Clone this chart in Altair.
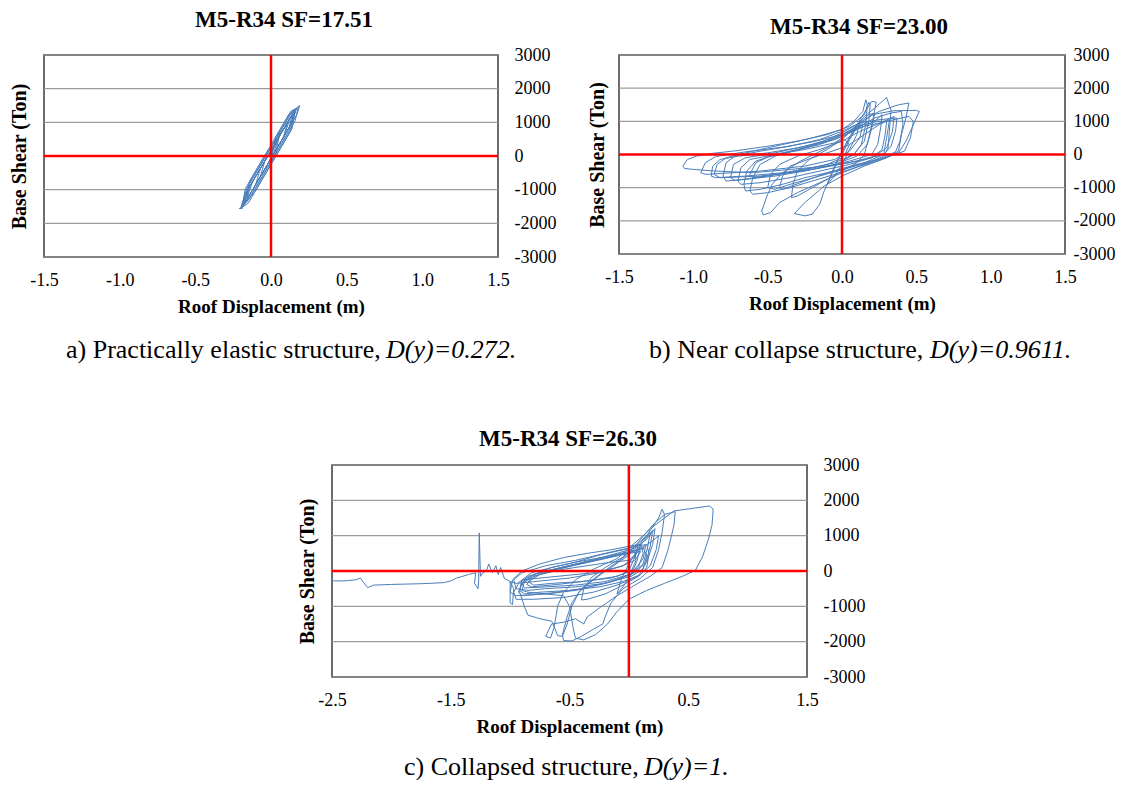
import altair as alt
import pandas as pd

FONT = "Liberation Serif"
BLUE = "#4a7ebb"

# ---------------- data ----------------
titles = ["M5-R34 SF=17.51", "M5-R34 SF=23.00", "M5-R34 SF=26.30"]
y_ticks = [-3000, -2000, -1000, 0, 1000, 2000, 3000]
x_ticks_ab = [-1.5, -1.0, -0.5, 0.0, 0.5, 1.0, 1.5]
x_ticks_c = [-2.5, -1.5, -0.5, 0.5, 1.5]

# panel a : practically elastic
a_x = [0.00, 0.05, 0.10, 0.14, 0.12, 0.06, 0.00, -0.06, -0.10, -0.07, -0.02, 0.04, 0.10, 0.15,
       0.17, 0.14, 0.08, 0.02, -0.05, -0.11, -0.16, -0.20, -0.21, -0.19, -0.16, -0.10, -0.03,
       0.04, 0.10, 0.16, 0.19, 0.17, 0.11, 0.04, -0.03, -0.09, -0.15, -0.19, -0.17, -0.11,
       -0.05, 0.01, 0.07, 0.12, 0.09, 0.03, -0.03, -0.08, -0.13, -0.16, -0.12, -0.06, 0.00,
       0.05, 0.11, 0.08, 0.02, -0.04, -0.07, -0.04, 0.00, 0.06, 0.13, 0.16, 0.12, 0.05, -0.02,
       -0.09, -0.14, -0.18, -0.14, -0.08, -0.01, 0.05, 0.02, 0.00,
       0.04, 0.09, 0.13, 0.15, 0.12, 0.07, 0.01, -0.05, -0.10, -0.15, -0.18, -0.15, -0.10,
       -0.04, 0.02, 0.08, 0.14, 0.18, 0.16, 0.10, 0.04, -0.02, -0.08, -0.14, -0.19, -0.20,
       -0.16, -0.11, -0.05, 0.01, 0.06, 0.03, 0.00,
       0.03, 0.08, 0.13, 0.16, 0.14, 0.09, 0.03, -0.03, -0.09, -0.15, -0.19, -0.17, -0.12,
       -0.06, 0.00, 0.06, 0.12, 0.16, 0.13, 0.07, 0.01, -0.05, -0.11, -0.16, -0.14, -0.08,
       -0.02, 0.02]
a_y = [40, 545, 930, 1230, 850, 385, -75, -535, -830, -370, 10, 470, 930, 1310,
       1420, 1000, 540, 80, -460, -915, -1300, -1550, -1560, -1560, -1060, -600, -65,
       470, 930, 1390, 1500, 1225, 765, 230, -305, -765, -1225, -1480, -1135, -675,
       -215, 240, 700, 1050, 610, 155, -305, -690, -1070, -1250, -750, -295, 165,
       545, 1000, 535, 80, -380, -610, -140, 100, 620, 1150, 1330, 850, 310, -230,
       -765, -1150, -1400, -900, -450, 90, 560, 100, 20,
       566, 948, 1254, 1300, 748, 365, -94, -552, -935, -1317, -1450, -887, -505,
       -46, 413, 872, 1331, 1450, 1054, 595, 136, -323, -782, -1241, -1500, -1540,
       -964, -581, -122, 337, 719, 60, -170,
       560, 942, 1325, 1400, 821, 439, -20, -480, -939, -1398, -1520, -970, -588,
       -129, 330, 789, 1248, 1380, 745, 286, -173, -633, -1092, -1300, -741, -282,
       177, 250]

# panel b : near collapse
b_x = [0.00, 0.04, 0.08, 0.12, 0.10, 0.05, 0.00, -0.05, -0.10, -0.06, 0.00, 0.06, 0.12, 0.17,
       0.20, 0.23, 0.21, 0.18, 0.15, 0.10, 0.00, -0.12, -0.22, -0.30, -0.34, -0.33, -0.30,
       -0.22, -0.10, 0.00, 0.08, 0.15, 0.22, 0.30, 0.32, 0.33, 0.32, 0.31, 0.28, 0.15, 0.00,
       -0.15, -0.30, -0.42, -0.48, -0.53, -0.54, -0.50, -0.47, -0.40, -0.28, -0.10, 0.05,
       0.15, 0.25, 0.38, 0.45, 0.43, 0.40, 0.38, 0.30, 0.15, 0.00, -0.12, -0.25, -0.32,
       -0.25, -0.20, -0.15, -0.12, -0.08, -0.03, 0.03, 0.10, 0.20, 0.35, 0.50, 0.52, 0.48,
       0.43, 0.38, 0.25, 0.10, -0.05, -0.20, -0.35, -0.50, -0.60, -0.62, -0.60, -0.55,
       -0.45, -0.30, -0.15, 0.00, 0.10, 0.18, 0.22, 0.20, 0.17, 0.10, -0.05, -0.25, -0.45,
       -0.65, -0.78, -0.80, -0.78, -0.72, -0.55, -0.35, -0.15, 0.00, 0.12, 0.25, 0.37,
       0.36, 0.33, 0.28, 0.10, -0.10, -0.35, -0.60, -0.85, -1.00, -1.06, -1.07, -1.04,
       -0.98, -0.88, -0.70, -0.50, -0.30, -0.10, 0.05, 0.15, 0.18, 0.19, 0.18, 0.15, 0.08,
       -0.05, -0.20, -0.40, -0.65, -0.85, -0.88, -0.87, -0.82, -0.70, -0.50, -0.30, -0.10,
       0.00, 0.10, 0.24, 0.30, 0.29, 0.27, 0.20, 0.05, -0.15, -0.35, -0.55, -0.68, -0.70,
       -0.68, -0.62, -0.45, -0.25, -0.05, 0.02, 0.05, 0.02, 0.00,
       -0.10, -0.30, -0.50, -0.72, -0.75, -0.73, -0.65, -0.45, -0.25, -0.05, 0.10, 0.22,
       0.33, 0.40, 0.41, 0.39, 0.36, 0.25, 0.05, -0.15, -0.35, -0.45, -0.50, -0.48, -0.42,
       -0.30, -0.15, 0.00, 0.12, 0.26, 0.35, 0.34, 0.30, 0.22, 0.05, -0.20, -0.45, -0.60,
       -0.62, -0.58, -0.50, -0.35, -0.15, 0.00, 0.10, 0.14, 0.12, 0.05, -0.05, -0.25,
       -0.55, -0.92, -0.95, -0.92, -0.85, -0.65, -0.40, -0.20, 0.00, 0.15, 0.25, 0.45,
       0.48, 0.46, 0.42, 0.30, 0.10, -0.10, -0.25, -0.40, -0.42, -0.40, -0.35, -0.20,
       0.00, 0.05,
       0.15, 0.25, 0.32, 0.30, 0.28, 0.15, -0.05, -0.25, -0.40, -0.55, -0.65, -0.66, -0.64,
       -0.58, -0.45, -0.25, -0.05, 0.10, 0.22, 0.27, 0.26, 0.24, 0.20, 0.05, -0.15, -0.35,
       -0.55, -0.82, -0.86, -0.84, -0.78, -0.60, -0.40, -0.20, 0.00, 0.08, 0.14, 0.16, 0.17,
       0.16, 0.13, 0.08, 0.00]
b_y = [0, 350, 700, 1000, 600, 150, -300, -650, -900, -450, 100, 600, 1050, 1400,
       1600, 1580, 1100, 500, 0, -250, -500, -800, -1050, -1250, -1300, -900, -500,
       -150, 150, 450, 800, 1150, 1400, 1720, 1450, 1350, 800, 200, -50, -300, -550,
       -850, -1150, -1450, -1750, -1820, -1700, -1200, -900, -550, -200, 200, 650,
       1050, 1300, 1500, 1550, 1100, 600, 100, -100, -350, -650, -950, -1450, -1780,
       -1850, -1800, -1500, -1100, -700, -200, 350, 800, 1200, 1320, 1330, 1300, 900,
       400, 50, -180, -380, -600, -800, -1000, -1150, -1200, -1100, -700, -300,
       -50, 150, 350, 650, 900, 1200, 1250, 800, 300, -50, -300, -500, -650,
       -750, -800, -650, -250, -50, 100, 250, 450, 700, 950, 1050, 1100,
       700, 250, 0, -200, -350, -450, -550, -500, -450, -420, -350, -150,
       -50, 30, 120, 250, 400, 600, 850, 1200, 1580, 1500, 1000, 400, 0,
       -250, -400, -550, -650, -700, -650, -350, -150, -50, 50, 200, 400,
       600, 850, 1000, 1000, 600, 150, -100, -300, -500, -700, -850, -900, -800,
       -400, -150, 0, 150, 350, 450, 300, 0, -100,
       -300, -500, -650, -780, -700, -300, -100, 50, 250, 500, 800, 1100,
       1250, 1300, 900, 400, 80, -150, -400, -650, -900, -1050, -1000, -600, -300,
       -50, 150, 400, 700, 950, 1150, 700, 200, -50, -250, -450, -600, -700,
       -600, -250, -80, 80, 300, 550, 750, 900, 500, 100, -150, -350,
       -500, -600, -550, -250, -60, 80, 220, 380, 600, 850, 950, 1150,
       1000, 500, 100, -80, -300, -550, -800, -1050, -1000, -650, -350, -100,
       200, 300,
       600, 900, 1050, 500, 0, -250, -500, -700, -900, -1050, -1100, -900, -500,
       -200, 0, 200, 450, 750, 1000, 1200, 800, 300, 0, -200, -400, -550,
       -650, -700, -600, -300, -100, 100, 300, 500, 750, 1000, 1300, 1650, 1500,
       900, 300, 0, -200]

# panel c : collapsed
c_x = [0.00, 0.05, 0.10, 0.07, 0.02, -0.05, -0.10, -0.06, 0.00, 0.08, 0.15, 0.20, 0.18, 0.14,
       0.08, -0.05, -0.20, -0.35, -0.40, -0.38, -0.32, -0.20, -0.05, 0.05, 0.15, 0.25, 0.28,
       0.30, 0.28, 0.25, 0.20, 0.10, -0.05, -0.15, -0.20, -0.22, -0.30, -0.40, -0.48, -0.55,
       -0.56, -0.52, -0.48, -0.40, -0.25, -0.10, 0.00, 0.10, 0.20, 0.30, 0.39, 0.38, 0.33,
       0.28, 0.18, 0.05, -0.10, -0.25, -0.35, -0.38, -0.45, -0.55, -0.65, -0.68, -0.70,
       -0.66, -0.63, -0.60, -0.55, -0.45, -0.30, -0.10, 0.00, 0.12, 0.22, 0.38, 0.55, 0.68,
       0.71, 0.70, 0.67, 0.62, 0.56, 0.45, 0.30, 0.15, 0.00, -0.10, -0.18, -0.28, -0.38,
       -0.45, -0.47, -0.50, -0.55, -0.70, -0.85, -0.90, -0.88, -0.80, -0.65, -0.45, -0.25,
       -0.05, 0.05, 0.15, 0.17, 0.15, 0.10, -0.05, -0.25, -0.50, -0.75, -0.88, -0.92, -0.90,
       -0.82, -0.65, -0.45, -0.20, 0.00, 0.12, 0.15, 0.12, 0.02, -0.20, -0.45, -0.70, -0.85,
       -0.95, -0.97, -0.90, -0.70, -0.45, -0.20, 0.00, 0.10, 0.12, 0.08, 0.00, -0.20, -0.45,
       -0.70, -0.88, -0.90, -0.85, -0.70, -0.50, -0.30, -0.10, 0.05, 0.06, 0.02, -0.15, -0.40,
       -0.65, -0.80, -0.85, -0.75, -0.55, -0.35, -0.15, 0.00,
       0.08, 0.14, 0.12, 0.05, -0.10, -0.35, -0.60, -0.82, -0.86, -0.80, -0.65, -0.45,
       -0.25, -0.05, 0.08, 0.20, 0.25, 0.23, 0.18, 0.08, -0.10, -0.30, -0.55, -0.80, -0.95,
       -0.97, -0.92, -0.78, -0.55, -0.30, -0.08, 0.05, 0.15, 0.22, 0.20, 0.15, 0.05, -0.15,
       -0.40, -0.65, -0.90, -0.93, -0.90, -0.80, -0.60, -0.40, -0.20, 0.00, 0.10, 0.05, -0.05,
       -0.10, -0.30, -0.60, -0.90,
       -0.92, -0.88, -0.85, -0.75, -0.65, -0.62, -0.60, -0.56, -0.52, -0.48, -0.42, -0.30,
       -0.15, 0.00, 0.10, 0.18, 0.16, 0.12, 0.02, -0.20, -0.45, -0.70, -0.95, -1.00, -0.98,
       -0.90, -0.75, -0.55, -0.35, -0.15, 0.00, 0.08, 0.05, -0.05, -0.25, -0.50, -0.80, -0.95,
       -1.00, -1.00, -0.98, -0.97, -1.00, -1.05, -1.08, -1.10, -1.12, -1.15, -1.18, -1.20,
       -1.23, -1.25, -1.26, -1.265, -1.27, -1.30, -1.29, -1.35, -1.45, -1.50, -1.56, -1.75,
       -2.00, -2.15, -2.20, -2.24, -2.26, -2.30, -2.40, -2.50]
c_y = [0, 400, 750, 300, -100, -450, -650, -200, 200, 650, 950, 1150, 700, 200,
       -150, -400, -650, -800, -820, -500, -200, 100, 400, 700, 1000, 1500, 1750,
       1600, 1100, 600, 100, -200, -500, -900, -1300, -1500, -1650, -1850, -1980, -1970,
       -1800, -1300, -900, -500, -100, 250, 500, 900, 1300, 1600, 1680, 1300, 600,
       100, -150, -400, -700, -1050, -1300, -1500, -1350, -1450, -1500, -1700, -1850,
       -1900, -1600, -1000, -600, -250, 50, 350, 650, 1000, 1300, 1700, 1780, 1840,
       1750, 1300, 900, 400, 20, -150, -350, -550, -800, -1150, -1500, -1800, -1950,
       -1900, -1600, -1000, -700, -650, -600, -550, -300, -100, 100, 250, 450,
       600, 700, 750, 500, 100, -100, -300, -450, -550, -600, -650, -550, -250,
       -50, 100, 250, 400, 550, 650, 450, 50, -150, -350, -450, -500, -550,
       -500, -250, -50, 150, 300, 500, 650, 750, 500, 100, -100, -300, -400,
       -450, -480, -350, -150, 0, 150, 300, 450, 550, 300, 0, -200, -300,
       -350, -400, -300, -100, 50, 150, 250, 300,
       550, 700, 350, 50, -150, -280, -380, -450, -380, -150, 20, 180,
       330, 480, 600, 850, 1000, 600, 150, -150, -400, -600, -750, -800, -800,
       -600, -300, -80, 120, 320, 520, 650, 900, 1200, 750, 250, -50, -300,
       -500, -620, -700, -600, -350, -150, 50, 200, 350, 500, 550, 300, 150,
       100, -50, -150, -250,
       -600, -1000, -1250, -1350, -1420, -1650, -1830, -1850, -1500, -1000, -600, -250,
       100, 450, 800, 1100, 700, 200, -100, -350, -550, -650, -700, -600, -250,
       0, 200, 380, 500, 600, 700, 750, 400, 150, -50, -200, -300, -350,
       -300, -900, -950, -500, -300, -200, 100, -100, 150, -50, 200, 0,
       -50, -150, 1080, -300, -500, -350, -50, -100, -200, -280, -330, -360,
       -380, -400, -470, -300, -200, -250, -280, -280]

captions = [
    ("a) Practically elastic structure, ", "D(y)=0.272."),
    ("b) Near collapse structure, ", "D(y)=0.9611."),
    ("c) Collapsed structure, ", "D(y)=1."),
]


def neg(fmt):
    return "replace(format(datum.value, '%s'), '\u2212', '-')" % fmt


def panel(xs, ys, xdom, xvals, w, h, ytx, ylp, xlp, xtp):
    # identical axis specs in every layer, so merging never drops or alters them
    def xenc():
        return alt.X("x:Q", scale=alt.Scale(domain=xdom, nice=False, zero=False),
                     axis=alt.Axis(values=xvals, labelExpr=neg(".1f"), grid=False,
                                   ticks=False, domain=False, labelPadding=xlp,
                                   labelFlush=False, labelOverlap=False,
                                   title="Roof Displacement (m)", titlePadding=xtp))

    def yenc():
        return alt.Y("y:Q", scale=alt.Scale(domain=[-3000, 3000], nice=False),
                     axis=alt.Axis(orient="right", values=y_ticks, labelExpr=neg("d"),
                                   grid=False, ticks=False, domain=False,
                                   labelOverlap=False, labelPadding=ylp, labelFlush=False,
                                   labelAlign="left", title="Base Shear (Ton)",
                                   titleFontSize=20, titleAngle=-90, titleX=-(w + ytx),
                                   titleY=h / 2, titleAlign="center",
                                   titleBaseline="middle"))

    df = pd.DataFrame({"i": list(range(len(xs))), "x": xs, "y": ys})
    grid = alt.Chart(pd.DataFrame({"y": y_ticks})).mark_rule(
        color="#9c9c9c", strokeWidth=1.2).encode(y=yenc())
    line = alt.Chart(df).mark_line(color=BLUE, strokeWidth=1, clip=True).encode(
        x=xenc(), y=yenc(), order="i:Q")
    vrule = alt.Chart(pd.DataFrame({"x": [0]})).mark_rule(
        color="#ff0000", strokeWidth=2.5).encode(x=xenc())
    hrule = alt.Chart(pd.DataFrame({"y": [0]})).mark_rule(
        color="#ff0000", strokeWidth=2.5).encode(y=yenc())
    return alt.layer(grid, line, vrule, hrule).properties(width=w, height=h)


def texts(items, w, h):
    layers = []
    for txt, xpos, ypos, size, style, weight, align in items:
        layers.append(
            alt.Chart(pd.DataFrame({"t": [txt]})).mark_text(
                align=align, baseline="alphabetic", font=FONT, fontSize=size,
                fontStyle=style, fontWeight=weight, color="black",
            ).encode(x=alt.value(xpos), y=alt.value(ypos), text="t:N")
        )
    return alt.layer(*layers).properties(
        width=w, height=h, view=alt.ViewBackground(strokeOpacity=0))


CAP = 26
TS = 23
row0 = texts([
    (titles[0], 240, 19, TS, "normal", "bold", "center"),
    (titles[1], 815, 26, TS, "normal", "bold", "center"),
], 1030, 37)

pa = panel(a_x, a_y, [-1.5, 1.5], x_ticks_ab, 454, 202, 25, 16, 14, 8)
pb = panel(b_x, b_y, [-1.5, 1.5], x_ticks_ab, 446, 199, 22, 8, 14, 8)
row1 = alt.hconcat(pa, pb, spacing=29)

row2 = texts([
    (captions[0][0], 22, 41, CAP, "normal", "normal", "left"),
    (captions[0][1], 342, 41, CAP, "italic", "normal", "left"),
    (captions[1][0], 605, 41, CAP, "normal", "normal", "left"),
    (captions[1][1], 886, 41, CAP, "italic", "normal", "left"),
    (titles[2], 524, 129, TS, "normal", "bold", "center"),
], 1030, 138)

pc = panel(c_x, c_y, [-2.5, 1.5], x_ticks_c, 475, 212, 25, 16, 14, 8)
spacer = alt.Chart(pd.DataFrame({"z": [0]})).mark_point(opacity=0, size=1).encode(
    x=alt.value(0), y=alt.value(5)).properties(
    width=252, height=10, view=alt.ViewBackground(strokeOpacity=0))
row3 = alt.hconcat(spacer, pc, spacing=0)

row4 = texts([
    (captions[2][0], 360, 38, CAP, "normal", "normal", "left"),
    (captions[2][1], 600, 38, CAP, "italic", "normal", "left"),
], 1030, 42)

chart = alt.vconcat(row0, row1, row2, row3, row4, spacing=0).properties(
    padding=0
).configure_view(stroke="#3c3c3c", strokeWidth=1.5).configure_axis(
    labelFont=FONT, labelFontSize=18, labelColor="black",
    titleFont=FONT, titleFontSize=19, titleFontWeight="bold", titleColor="black",
).configure_concat(spacing=0)

chart.save("out.html", embed_options={"renderer": "svg", "actions": False})
